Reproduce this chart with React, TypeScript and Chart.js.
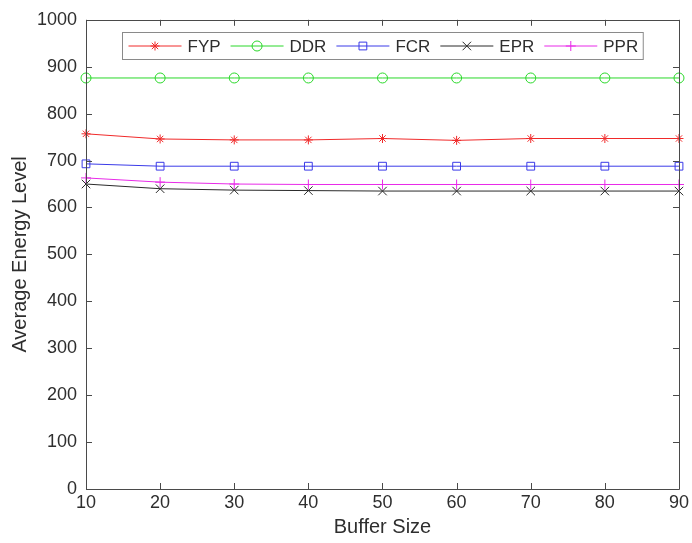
import React, { useEffect, useRef } from "react";
import { Chart, registerables } from "chart.js";
import { drawPoint } from "chart.js/helpers";

Chart.register(...registerables);

const bufferSizes = [10, 20, 30, 40, 50, 60, 70, 80, 90];
const fypValues = [757, 746, 744, 744, 747, 743, 747, 747, 747];
const ddrValues = [876, 876, 876, 876, 876, 876, 876, 876, 876];
const fcrValues = [693, 688, 688, 688, 688, 688, 688, 688, 688];
const eprValues = [650, 640, 637, 636, 635, 635, 635, 635, 635];
const pprValues = [663, 654, 650, 649, 649, 649, 649, 649, 649];
const seriesNames = ["FYP", "DDR", "FCR", "EPR", "PPR"];
const xTitle = "Buffer Size";
const yTitle = "Average Energy Level";

const FONT = "'Liberation Sans', Arial, Helvetica, sans-serif";
const TEXT = "#2e2e2e";
const AXIS = "#4a4a4a";

const styles = [
  { color: "#f02a2a", pointStyle: "star", radius: 4.5 },
  { color: "#2ad82a", pointStyle: "circle", radius: 5 },
  { color: "#3a3ae8", pointStyle: "rect", radius: 5.5 },
  { color: "#2a2a2a", pointStyle: "crossRot", radius: 6 },
  { color: "#e82ae8", pointStyle: "cross", radius: 5 },
];

const decorPlugin = {
  id: "decor",
  afterDatasetsDraw(chart: any) {
    const { ctx, chartArea, scales } = chart;
    const { left, right, top, bottom } = chartArea;
    ctx.save();
    // frame
    ctx.strokeStyle = AXIS;
    ctx.lineWidth = 1;
    ctx.beginPath();
    ctx.rect(Math.round(left) + 0.5, Math.round(top) + 0.5, Math.round(right - left), Math.round(bottom - top));
    ctx.stroke();
    // inward ticks
    const tl = 6;
    ctx.beginPath();
    scales.x.ticks.forEach((t: any) => {
      const x = Math.round(scales.x.getPixelForValue(t.value)) + 0.5;
      ctx.moveTo(x, bottom);
      ctx.lineTo(x, bottom - tl);
      ctx.moveTo(x, top);
      ctx.lineTo(x, top + tl);
    });
    scales.y.ticks.forEach((t: any) => {
      const y = Math.round(scales.y.getPixelForValue(t.value)) + 0.5;
      ctx.moveTo(left, y);
      ctx.lineTo(left + tl, y);
      ctx.moveTo(right, y);
      ctx.lineTo(right - tl, y);
    });
    ctx.stroke();

    // titles
    ctx.fillStyle = TEXT;
    ctx.font = `20px ${FONT}`;
    ctx.textAlign = "center";
    ctx.textBaseline = "middle";
    ctx.fillText(xTitle, (left + right) / 2, 527);
    ctx.save();
    ctx.translate(20, (top + bottom) / 2);
    ctx.rotate(-Math.PI / 2);
    ctx.fillText(yTitle, 0, 0);
    ctx.restore();

    // legend
    const boxL = 122.5, boxT = 32.5, boxH = 27;
    ctx.font = `17px ${FONT}`;
    const lineLen = 53, gapText = 6, gapItem = 10, padL = 6, padR = 5;
    let total = padL;
    seriesNames.forEach((n, i) => {
      total += lineLen + gapText + ctx.measureText(n).width;
      if (i < seriesNames.length - 1) total += gapItem;
    });
    total += padR;
    ctx.fillStyle = "#ffffff";
    ctx.fillRect(boxL, boxT, total, boxH);
    ctx.strokeStyle = "#8a8a8a";
    ctx.strokeRect(boxL, boxT, total, boxH);
    const cy = boxT + boxH / 2;
    let x = boxL + padL;
    seriesNames.forEach((n, i) => {
      const s = styles[i];
      ctx.strokeStyle = s.color;
      ctx.lineWidth = 1;
      ctx.beginPath();
      ctx.moveTo(x, cy);
      ctx.lineTo(x + lineLen, cy);
      ctx.stroke();
      ctx.fillStyle = "rgba(0,0,0,0)";
      drawPoint(ctx, { pointStyle: s.pointStyle as any, rotation: 0, radius: s.radius, borderWidth: 1 }, x + lineLen / 2, cy);
      ctx.fillStyle = TEXT;
      ctx.textAlign = "left";
      ctx.textBaseline = "middle";
      ctx.fillText(n, x + lineLen + gapText, cy + 1);
      x += lineLen + gapText + ctx.measureText(n).width + gapItem;
    });
    ctx.restore();
  },
};

export default function App() {
  const ref = useRef<HTMLCanvasElement | null>(null);
  useEffect(() => {
    if (!ref.current) return;
    const all = [fypValues, ddrValues, fcrValues, eprValues, pprValues];
    const chart = new Chart(ref.current, {
      type: "line",
      data: {
        datasets: all.map((vals, i) => ({
          label: seriesNames[i],
          data: bufferSizes.map((b, j) => ({ x: b, y: vals[j] })),
          borderColor: styles[i].color,
          backgroundColor: "rgba(0,0,0,0)",
          pointBorderColor: styles[i].color,
          pointBackgroundColor: "rgba(0,0,0,0)",
          pointStyle: styles[i].pointStyle as any,
          pointRadius: styles[i].radius,
          pointBorderWidth: 1,
          borderWidth: 1,
          tension: 0,
          fill: false,
          clip: false as any,
        })),
      },
      options: {
        animation: false,
        responsive: false,
        devicePixelRatio: 1,
        layout: { padding: { top: 19, right: 11, left: 0, bottom: 0 } },
        plugins: { legend: { display: false }, tooltip: { enabled: false } },
        scales: {
          x: {
            type: "linear",
            min: 10,
            max: 90,
            ticks: { stepSize: 10, color: TEXT, font: { family: FONT, size: 18 }, padding: 3, maxRotation: 0, callback: (v: any) => String(v) },
            grid: { display: false, drawTicks: false },
            border: { display: false },
            afterFit: (s: any) => { s.height = 54; },
          },
          y: {
            min: 0,
            max: 1000,
            ticks: { stepSize: 100, color: TEXT, font: { family: FONT, size: 18 }, padding: 9, callback: (v: any) => String(v) },
            grid: { display: false, drawTicks: false },
            border: { display: false },
            afterFit: (s: any) => { s.width = 86; },
          },
        },
      },
      plugins: [decorPlugin],
    });
    return () => chart.destroy();
  }, []);
  return (
    <div style={{ position: "fixed", left: 0, top: 0, width: 692, height: 543, background: "#fff" }}>
      <canvas ref={ref} width={692} height={543} style={{ width: 692, height: 543, display: "block" }} />
    </div>
  );
}
